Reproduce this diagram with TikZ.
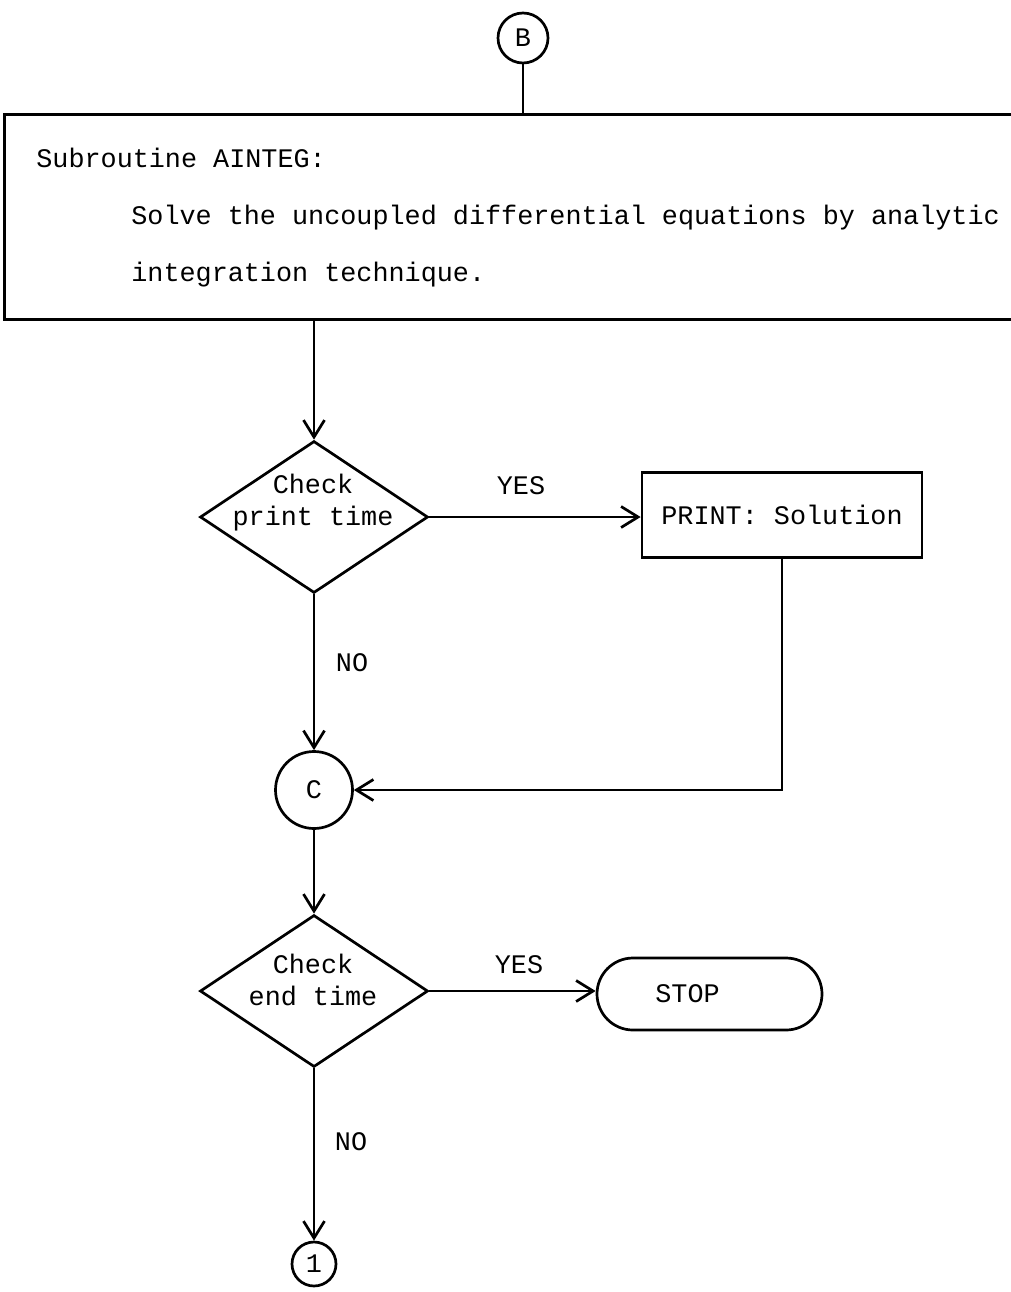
\documentclass[tikz,border=0pt]{standalone}
\usepackage{fontspec}
\setmainfont{Liberation Mono}
\usetikzlibrary{shapes.geometric,arrows.meta}
\begin{document}
\begin{tikzpicture}[x=1pt,y=-1pt,
  line width=2.7pt,
  every node/.style={font=\fontsize{26.8}{32}\selectfont, inner sep=0pt},
  conn/.style={draw, circle, minimum size=#1},
  dia/.style={draw, diamond, minimum width=228pt, minimum height=152pt},
  proc/.style={draw, rectangle},
  term/.style={draw, rectangle, rounded corners=36pt, minimum width=225pt, minimum height=72pt},
  arr/.style={-{Straight Barb[length=17pt,width=21pt]}},
  lbl/.style={font=\fontsize{26.8}{32}\selectfont}
]
\useasboundingbox (0,0) rectangle (1011,1292);
\clip (0,0) rectangle (1011,1292);
\fill[white] (0,0) rectangle (1011,1292);

% connector B
\node[conn=50pt] (B) at (523,38) {B};

% subroutine box
\node[proc, anchor=north west, minimum width=1030pt, minimum height=205pt] (main) at (3,113) {};
\node[anchor=mid west] (t1) at (35,165) {Subroutine AINTEG:};
\node[anchor=mid west] (t2) at (130,222) {Solve the uncoupled differential equations by analytic};
\node[anchor=mid west] (t3) at (130,279) {integration technique.};

% decision 1
\node[dia] (d1) at (314,517) {};
\node[align=center] (d1t) at (313,503) {Check\\print time};

% print box
\node[proc, minimum width=280pt, minimum height=85pt] (print) at (782,515) {PRINT: Solution};

% connector C
\node[conn=77pt] (C) at (314,790) {C};

% decision 2
\node[dia] (d2) at (314,991) {};
\node[align=center] (d2t) at (313,980) {Check\\end time};

% stop
\node[term] (stop) at (709.5,994) {STOP\kern44pt};

% connector 1
\node[conn=44pt] (one) at (314,1264) {1};

% labels
\node[lbl] (yes1) at (521,486) {YES};
\node[lbl] (no1) at (352,663) {NO};
\node[lbl] (yes2) at (519,965) {YES};
\node[lbl] (no2) at (351,1142) {NO};

% connectors
\draw (B.south) -- (B.south |- main.north);
\draw[arr] (main.south -| d1.north) -- (d1.north);
\draw[arr] (d1.east) -- (d1.east -| print.west);
\draw[arr] (d1.south) -- (C.north);
\draw[arr] (print.south) |- (C.east);
\draw[arr] (C.south) -- (d2.north);
\draw[arr] (d2.east) -- (d2.east -| stop.west);
\draw[arr] (d2.south) -- (one.north);
\end{tikzpicture}
\end{document}
